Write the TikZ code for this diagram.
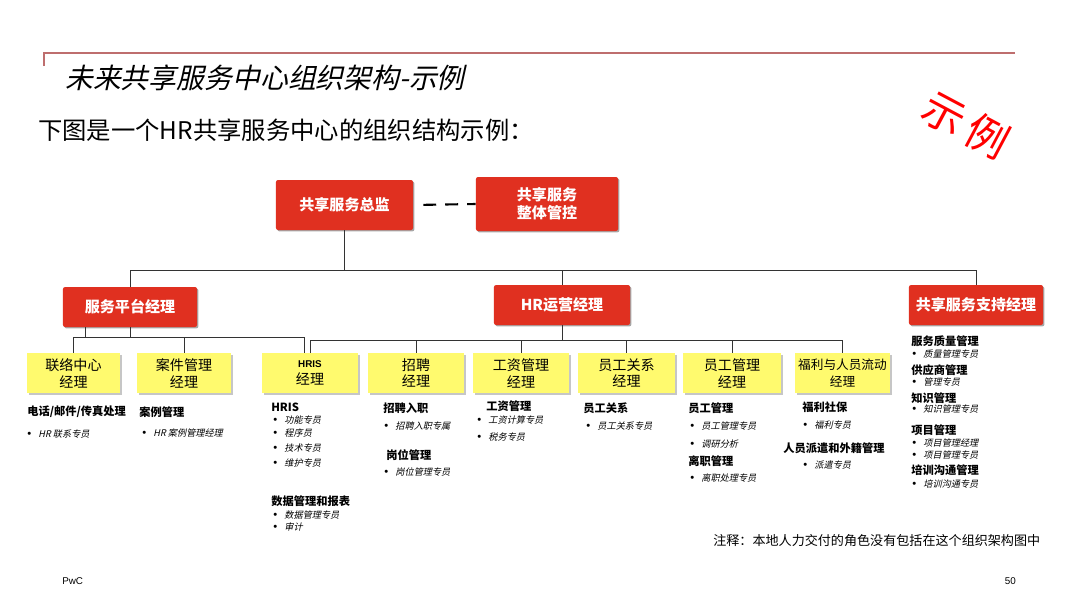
\documentclass[tikz,border=0pt]{standalone}
\usepackage{fontspec}
\setmainfont{Noto Sans CJK SC}
\newfontfamily\slantfont{Noto Sans CJK SC}[FakeSlant=0.22]
\newfontfamily\latinfont{Liberation Sans}
\usepackage{tikz}
\usetikzlibrary{calc}
\usetikzlibrary{shadows}
\definecolor{pwcred}{RGB}{224,48,32}
\definecolor{noteyellow}{RGB}{255,250,110}
\definecolor{ruleline}{RGB}{190,110,110}
\newcommand{\blt}{\makebox[0.28cm][l]{\latinfont\fontsize{8}{8}\selectfont\textbullet}}
\tikzset{redbox/.style={fill=pwcred, rounded corners=1.5pt, text=white, align=center, inner sep=0pt, font=\fontsize{10.7}{13}\selectfont\bfseries, drop shadow={shadow xshift=1pt, shadow yshift=-1pt, opacity=0.35, fill=black}}}
\tikzset{yelbox/.style={fill=noteyellow, minimum height=1cm, align=center, inner sep=0pt, font=\fontsize{10}{12}\selectfont, drop shadow={shadow xshift=1.2pt, shadow yshift=-1.2pt, opacity=0.45, fill=gray}}}
\tikzset{head/.style={anchor=west, inner sep=0pt, font=\fontsize{8}{9}\selectfont\bfseries}}
\tikzset{item/.style={anchor=west, inner sep=0pt, font=\slantfont\fontsize{6.5}{7}\selectfont}}
\tikzset{link/.style={draw=black!80, line width=0.7pt}}
\begin{document}
\begin{tikzpicture}[x=0.025cm, y=-0.025cm]
    \useasboundingbox (0,0) rectangle (1080,608);
    \draw[ruleline, line width=0.8pt] (44,66) -- (44,53) -- (1015,53);
    \node[anchor=west, inner sep=0pt, font=\slantfont\fontsize{19.8}{23}\selectfont] (title) at (65,78) {未来共享服务中心组织架构-示例};
    \node[anchor=west, inner sep=0pt, font=\fontsize{17.3}{20}\selectfont] (subtitle) at (38,130) {下图是一个HR共享服务中心的组织结构示例：};
    \node[rotate=-28, text=red, inner sep=0pt, font=\fontsize{30}{34}\selectfont] (stamp) at (966,125) {示\hspace{5pt}例};

    \node[redbox, minimum width=3.425cm, minimum height=1.25cm] (top) at (344.5,205) {共享服务总监};
    \node[redbox, minimum width=3.55cm, minimum height=1.35cm] (ctrl) at (547,204) {共享服务\\整体管控};
    \draw[line width=1.5pt, dash pattern=on 9.2pt off 6.4pt, shorten <=0.25cm] (top.east) -- (ctrl.west);

    \node[redbox, minimum width=3.35cm, minimum height=1cm] (plat) at (130,307) {服务平台经理};
    \node[redbox, minimum width=3.4cm, minimum height=1cm] (ops) at (562,305) {HR运营经理};
    \node[redbox, minimum width=3.35cm, minimum height=1cm] (supp) at (976,305) {共享服务支持经理};

    \node[yelbox, minimum width=2.325cm] (liaison) at (73.5,373) {联络中心\\经理};
    \node[yelbox, minimum width=2.35cm] (case) at (184,373) {案件管理\\经理};
    \node[yelbox, minimum width=2.4cm] (hris) at (310,373) {{\latinfont\bfseries\fontsize{7}{8}\selectfont HRIS}\\经理};
    \node[yelbox, minimum width=2.4cm] (recruit) at (416,373) {招聘\\经理};
    \node[yelbox, minimum width=2.4cm] (payroll) at (521,373) {工资管理\\经理};
    \node[yelbox, minimum width=2.425cm] (relation) at (626.5,373) {员工关系\\经理};
    \node[yelbox, minimum width=2.45cm] (empmgmt) at (732,373) {员工管理\\经理};
    \node[yelbox, minimum width=2.375cm, font=\fontsize{9}{12}\selectfont] (welfare) at (842.5,373) {福利与人员流动\\经理};

    \coordinate (bus) at (0,270);
    \coordinate (platbus) at (0,337);
    \coordinate (opsbus) at (0,340);
    \draw[link] (top.south) -- (top.south |- bus) -| (plat.north);
    \draw[link] (top.south |- bus) -| (ops.north);
    \draw[link] (top.south |- bus) -| (supp.north);

    \draw[link] (plat.south) -- (plat.south |- platbus) -| (liaison.north);
    \draw[link] ([xshift=-1.1cm]plat.south) -- ++(0,10);
    \draw[link] (plat.south |- platbus) -| (case.north);
    \draw[link] (plat.south |- platbus) -| ([xshift=-0.15cm]hris.north);

    \draw[link] (ops.south) -- (ops.south |- opsbus) -| (hris.north);
    \draw[link] (ops.south |- opsbus) -| (recruit.north);
    \draw[link] (ops.south |- opsbus) -| (payroll.north);
    \draw[link] (ops.south |- opsbus) -| (relation.north);
    \draw[link] (ops.south |- opsbus) -| (empmgmt.north);
    \draw[link] (ops.south |- opsbus) -| (welfare.north);

    \node[head] (h11) at (27,412) {电话/邮件/传真处理};
    \node[item] (i11) at (27,434) {\blt HR 联系专员};

    \node[head] (h21) at (139,412) {案例管理};
    \node[item] (i21) at (142,433) {\blt HR 案例管理经理};

    \node[head] (h31) at (271,407) {HRIS};
    \node[item] (i31) at (273,420) {\blt 功能专员};
    \node[item] (i32) at (273,433) {\blt 程序员};
    \node[item] (i33) at (273,448) {\blt 技术专员};
    \node[item] (i34) at (273,463) {\blt 维护专员};
    \node[head] (h32) at (271,501) {数据管理和报表};
    \node[item] (i35) at (273,515) {\blt 数据管理专员};
    \node[item] (i36) at (273,527) {\blt 审计};

    \node[head] (h41) at (383,408) {招聘入职};
    \node[item] (i41) at (384,426) {\blt 招聘入职专属};
    \node[head] (h42) at (386,455) {岗位管理};
    \node[item] (i42) at (384,472) {\blt 岗位管理专员};

    \node[head] (h51) at (486,406) {工资管理};
    \node[item] (i51) at (477,420) {\blt 工资计算专员};
    \node[item] (i52) at (477,437) {\blt 税务专员};

    \node[head] (h61) at (583,408) {员工关系};
    \node[item] (i61) at (586,426) {\blt 员工关系专员};

    \node[head] (h71) at (688,408) {员工管理};
    \node[item] (i71) at (690,426) {\blt 员工管理专员};
    \node[item] (i72) at (690,444) {\blt 调研分析};
    \node[head] (h72) at (688,461) {离职管理};
    \node[item] (i73) at (690,478) {\blt 离职处理专员};

    \node[head] (h81) at (802,407) {福利社保};
    \node[item] (i81) at (803,425) {\blt 福利专员};
    \node[head] (h82) at (783,448) {人员派遣和外籍管理};
    \node[item] (i82) at (803,465) {\blt 派遣专员};

    \node[head] (h91) at (911,341) {服务质量管理};
    \node[item] (i91) at (912,354) {\blt 质量管理专员};
    \node[head] (h92) at (911,370) {供应商管理};
    \node[item] (i92) at (912,382) {\blt 管理专员};
    \node[head] (h93) at (911,398) {知识管理};
    \node[item] (i93) at (912,409) {\blt 知识管理专员};
    \node[head] (h94) at (911,430) {项目管理};
    \node[item] (i94) at (912,443) {\blt 项目管理经理};
    \node[item] (i95) at (912,455) {\blt 项目管理专员};
    \node[head] (h95) at (911,470) {培训沟通管理};
    \node[item] (i96) at (912,484) {\blt 培训沟通专员};

    \node[anchor=west, inner sep=0pt, font=\fontsize{9.3}{11}\selectfont] (note) at (713,541) {注释：本地人力交付的角色没有包括在这个组织架构图中};
    \node[anchor=west, inner sep=0pt, font=\latinfont\fontsize{7}{8}\selectfont] (brand) at (62,581) {PwC};
    \node[anchor=east, inner sep=0pt, font=\latinfont\fontsize{7}{8}\selectfont] (page) at (1016,581) {50};
\end{tikzpicture}
\end{document}
